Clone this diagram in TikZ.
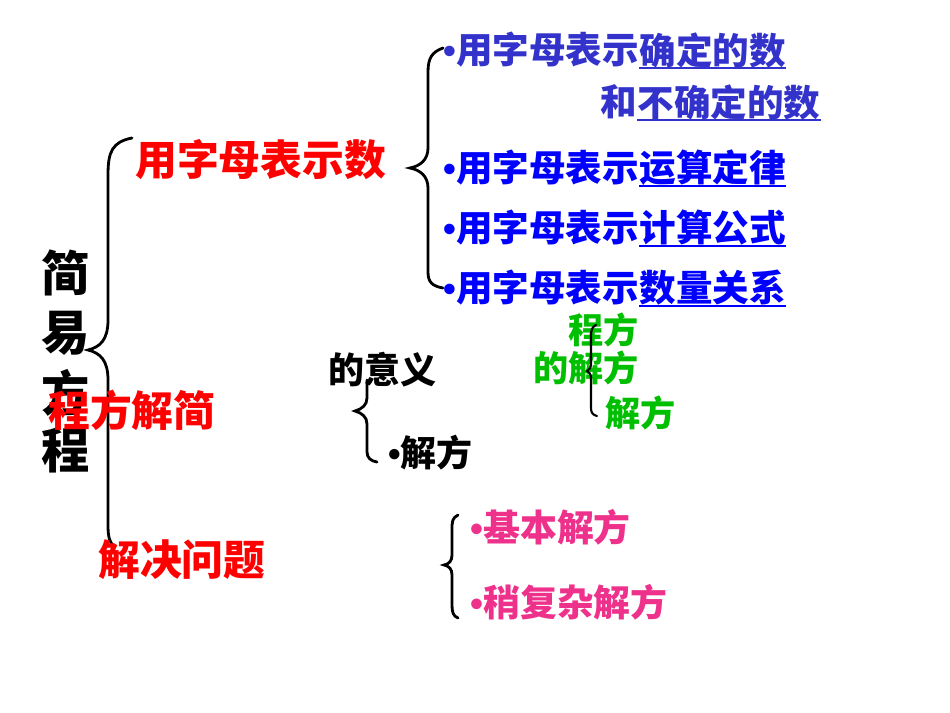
\documentclass[tikz,border=0pt]{standalone}
\usepackage{fontspec}
\usepackage{xcolor}
\usetikzlibrary{positioning}
\newfontfamily\cjkfont{Noto Sans CJK SC}
\newfontfamily\latinfont{Liberation Sans}
\definecolor{mapred}{RGB}{255, 0, 0}
\definecolor{mapblue}{RGB}{51, 51, 204}
\definecolor{mapdeepblue}{RGB}{0, 0, 255}
\definecolor{mapgreen}{RGB}{0, 190, 0}
\definecolor{mappink}{RGB}{238, 50, 140}
\newcommand{\bul}{{\latinfont\bfseries •}}
\tikzset{
    txt/.style={inner sep=0pt, anchor=west},
    titlechar/.style={inner sep=0pt, font=\cjkfont\bfseries\fontsize{27.5}{30}\selectfont},
    redbig/.style={txt, text=mapred, font=\cjkfont\bfseries\fontsize{23.8}{28}\selectfont},
    bluetxt/.style={txt, text=mapblue, font=\cjkfont\bfseries\fontsize{20.8}{24}\selectfont},
    deeptxt/.style={bluetxt, text=mapdeepblue},
    blacktxt/.style={txt, text=black, font=\cjkfont\bfseries\fontsize{20.5}{24}\selectfont},
    greentxt/.style={txt, text=mapgreen, font=\cjkfont\bfseries\fontsize{20}{24}\selectfont},
    pinktxt/.style={txt, text=mappink, font=\cjkfont\bfseries\fontsize{21}{24}\selectfont},
    brace/.style={draw=black, line width=1.6pt, line cap=round},
    uline/.style={line width=1pt}
}

\begin{document}
\begin{tikzpicture}[x=0.02cm, y=-0.02cm]
    \useasboundingbox (0,0) rectangle (950,713);

    % title, one character per line
    \node[titlechar] (t1) at (66,273) {简};
    \node[titlechar] (t2) at (66,333) {易};
    \node[titlechar] (t3) at (66,393) {方};
    \node[titlechar] (t4) at (66,450) {程};

    % main brace
    \draw[brace] (132,138) .. controls (112,142) and (108,152) .. (108,175)
        -- (108,320) .. controls (108,340) and (100,347) .. (88,350)
        .. controls (100,353) and (108,360) .. (108,380)
        -- (108,525) .. controls (108,538) and (110,543) .. (114,546);

    % branches
    \node[redbig] (b1) at (135,160) {用字母表示数};
    \node[redbig] (b2) at (48,410) {程方解简};
    \node[redbig] (b3) at (98,560) {解决问题};

    % letters for numbers
    \draw[brace] (443,48) .. controls (432,52) and (428,58) .. (428,72)
        -- (428,148) .. controls (428,160) and (420,166) .. (410,168)
        .. controls (420,170) and (428,176) .. (428,188)
        -- (428,272) .. controls (428,282) and (432,286) .. (443,288);

    \node[bluetxt] (a1) at (443,50) {\bul 用字母表示};
    \node[bluetxt, right=0pt of a1] (a1u) {确定的数};
    \node[bluetxt] (a2) at (600,102) {和};
    \node[bluetxt, right=0pt of a2] (a2u) {不确定的数};
    \node[deeptxt] (a3) at (443,168) {\bul 用字母表示};
    \node[deeptxt, right=0pt of a3] (a3u) {运算定律};
    \node[deeptxt] (a4) at (443,228) {\bul 用字母表示};
    \node[deeptxt, right=0pt of a4] (a4u) {计算公式};
    \node[deeptxt] (a5) at (443,288) {\bul 用字母表示};
    \node[deeptxt, right=0pt of a5] (a5u) {数量关系};

    \draw[uline, mapblue] (a1u.south west) -- (a1u.south east);
    \draw[uline, mapblue] (a2u.south west) -- (a2u.south east);
    \draw[uline, mapdeepblue] (a3u.south west) -- (a3u.south east);
    \draw[uline, mapdeepblue] (a4u.south west) -- (a4u.south east);
    \draw[uline, mapdeepblue] (a5u.south west) -- (a5u.south east);

    % equations
    \node[blacktxt] (c1) at (328,370) {的意义};
    \node[blacktxt] (c2) at (388,453) {\bul 解方};
    \draw[brace] (367,380) -- (367,398) .. controls (367,405) and (362,409) .. (355,411)
        .. controls (362,413) and (367,417) .. (367,424)
        -- (367,452) .. controls (367,458) and (371,461) .. (377,462);

    \node[greentxt] (d1) at (568,330) {程方};
    \node[greentxt] (d2) at (533,368) {的解方};
    \node[greentxt] (d3) at (605,413) {解方};
    \draw[brace, line width=1.2pt] (596,325) .. controls (592,327) and (591,330) .. (591,336)
        -- (591,364) .. controls (591,368) and (589,370) .. (587,371)
        .. controls (589,372) and (591,374) .. (591,378)
        -- (591,408) .. controls (591,413) and (593,415) .. (597,416);

    % solving problems
    \draw[brace] (458,515) .. controls (452,518) and (452,522) .. (452,530)
        -- (452,555) .. controls (452,561) and (449,564) .. (444,565)
        .. controls (449,566) and (452,569) .. (452,575)
        -- (452,605) .. controls (452,612) and (453,616) .. (458,618);
    \node[pinktxt] (e1) at (470,527) {\bul 基本解方};
    \node[pinktxt] (e2) at (470,602) {\bul 稍复杂解方};
\end{tikzpicture}
\end{document}
